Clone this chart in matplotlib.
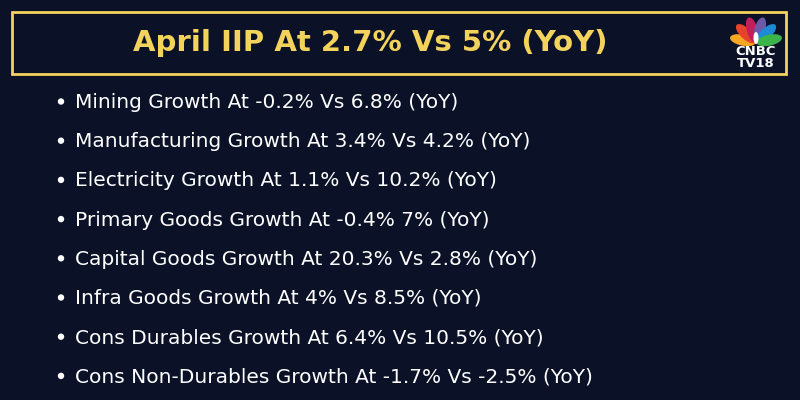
import math
import matplotlib
matplotlib.use("Agg")
import matplotlib.pyplot as plt
from matplotlib.patches import Rectangle, Ellipse, Circle

# headline numbers
title_now = "2.7"
title_prev = "5"

# sector growth, april this year vs last year (%)
sectors = ["Mining", "Manufacturing", "Electricity", "Primary Goods",
           "Capital Goods", "Infra Goods", "Cons Durables", "Cons Non-Durables"]
growth_now = ["-0.2", "3.4", "1.1", "-0.4", "20.3", "4", "6.4", "-1.7"]
growth_prev = ["6.8", "4.2", "10.2", "7", "2.8", "8.5", "10.5", "-2.5"]
joiners = [" Vs ", " Vs ", " Vs ", " ", " Vs ", " Vs ", " Vs ", " Vs "]

bg = "#0b1228"
gold = "#f3d35b"

fig = plt.figure(figsize=(8, 4), dpi=100)
fig.patch.set_facecolor(bg)
ax = fig.add_axes([0, 0, 1, 1])
ax.set_xlim(0, 800)
ax.set_ylim(400, 0)
ax.axis("off")

# title box
ax.add_patch(Rectangle((12, 12), 774, 62, fill=False, ec=gold, lw=2))
ax.text(370, 51, "April IIP At %s%% Vs %s%% (YoY)" % (title_now, title_prev),
        color=gold, fontsize=21, fontweight="bold", family="DejaVu Sans",
        ha="center", va="baseline")

# logo - peacock feathers
cx, cy = 756, 43
feather_cols = ["#f5a623", "#e8412c", "#c41e5a", "#6a5aa8", "#1c8ad6", "#3bb54a"]
angles = [-78, -47, -16, 16, 47, 78]
for col, a in zip(feather_cols, angles):
    r = math.radians(a)
    ex = cx + 13.5 * math.sin(r)
    ey = cy - 13.5 * math.cos(r)
    ax.add_patch(Ellipse((ex, ey), 11, 26, angle=a, color=col, lw=0))
ax.add_patch(Ellipse((cx, cy - 5), 5, 12, color="white", lw=0))
ax.text(cx, 67, "CNBC\nTV18", color="white", fontsize=9.5, fontweight="bold",
        family="DejaVu Sans", ha="center", va="baseline",
        multialignment="center", linespacing=0.9)

# bullet lines
y0, dy = 108, 39.2
for i, (s, a, j, b) in enumerate(zip(sectors, growth_now, joiners, growth_prev)):
    y = y0 + i * dy
    ax.add_patch(Circle((61, y - 6.5), 3.2, color="white", lw=0))
    ax.text(75, y, "%s Growth At %s%%%s%s%% (YoY)" % (s, a, j, b),
            color="white", fontsize=14.5, fontweight="normal",
            family="DejaVu Sans", ha="left", va="baseline")

fig.savefig("out.png", dpi=100, facecolor=bg)
